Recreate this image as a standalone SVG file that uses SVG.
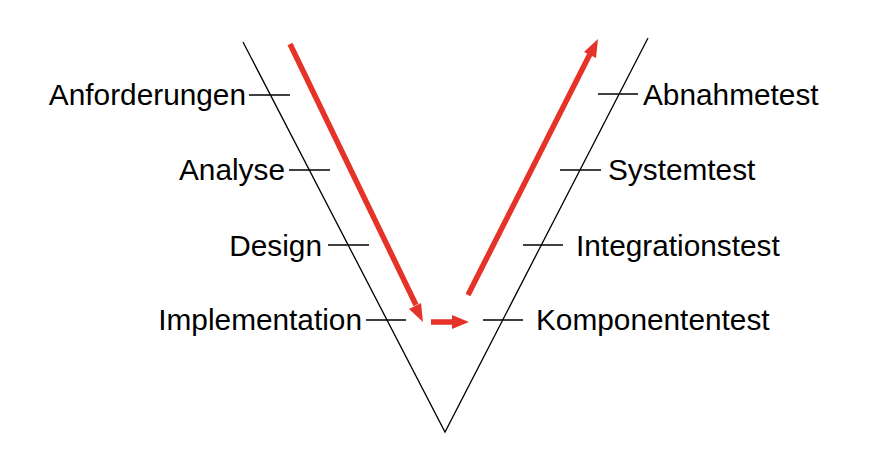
<svg xmlns="http://www.w3.org/2000/svg" width="875" height="461" viewBox="0 0 875 461">
<style>
.v{fill:none;stroke:#000;stroke-width:1.3}
.t{stroke:#000;stroke-width:1.3}
.lbl{font-family:"Liberation Sans",Arial,sans-serif;font-size:29.8px;fill:#000}
.l{text-anchor:end}
.red{stroke:#e53329;stroke-width:5.5;fill:none}
.head{fill:#e53329}
</style>
<g id="v-shape">
<polyline class="v" points="243,42 445,432 648,38"/>
</g>
<g id="anforderungen"><line class="t" x1="249" y1="95" x2="290" y2="95"/><text class="lbl l" x="246" y="105">Anforderungen</text></g>
<g id="analyse"><line class="t" x1="289" y1="170" x2="330" y2="170"/><text class="lbl l" x="285" y="180">Analyse</text></g>
<g id="design"><line class="t" x1="328" y1="245" x2="369" y2="245"/><text class="lbl l" x="322" y="256">Design</text></g>
<g id="implementation"><line class="t" x1="366" y1="320" x2="406" y2="320"/><text class="lbl l" x="362" y="330">Implementation</text></g>
<g id="abnahmetest"><line class="t" x1="598" y1="94" x2="638" y2="94"/><text class="lbl" x="643" y="105">Abnahmetest</text></g>
<g id="systemtest"><line class="t" x1="560" y1="170" x2="601" y2="170"/><text class="lbl" x="608" y="180">Systemtest</text></g>
<g id="integrationstest"><line class="t" x1="523" y1="245" x2="563" y2="245"/><text class="lbl" x="576" y="256">Integrationstest</text></g>
<g id="komponententest"><line class="t" x1="483" y1="320" x2="523" y2="320"/><text class="lbl" x="536" y="330">Komponententest</text></g>
<g id="connectors">
<line class="red" x1="290" y1="44" x2="416" y2="305"/>
<polygon class="head" points="423,322 409,309 421,303"/>
<line class="red" x1="431" y1="322" x2="454" y2="322"/>
<polygon class="head" points="469,322 452,315 452,329"/>
<line class="red" x1="468" y1="295" x2="590" y2="54"/>
<polygon class="head" points="598,39 584,52 596,58"/>
</g>
</svg>
